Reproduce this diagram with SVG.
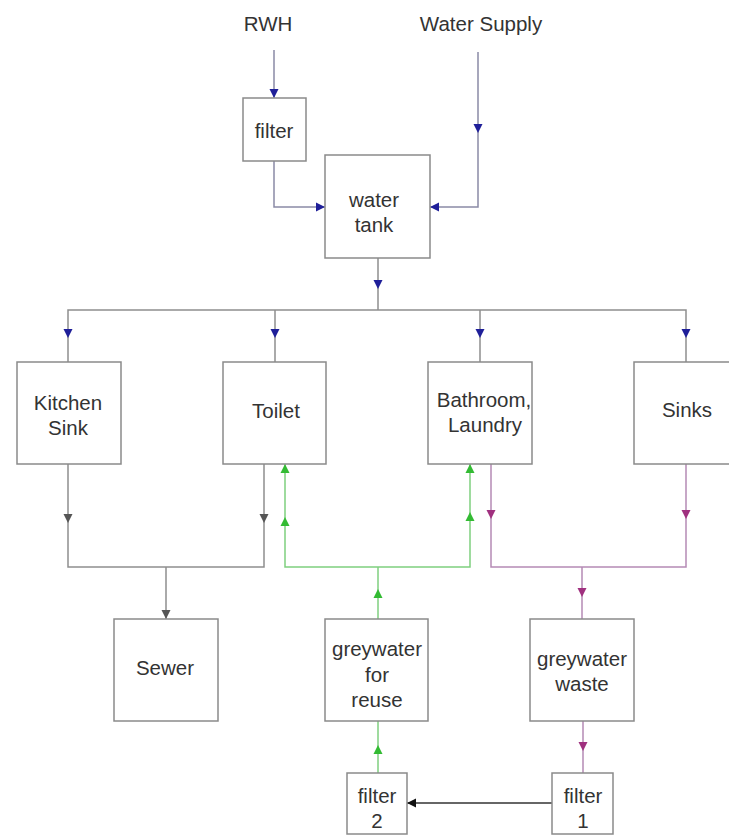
<svg xmlns="http://www.w3.org/2000/svg" xmlns:xlink="http://www.w3.org/1999/xlink" width="729" height="837" viewBox="0 0 729 837">
<style>
.box{fill:#fff;stroke:#8a8a8a;stroke-width:1.5}
.t{font-family:"Liberation Sans",Arial,sans-serif;font-size:20.5px;fill:#333;text-anchor:middle}
.ln{fill:none;stroke:#8e8e8e;stroke-width:1.5}
.lb{fill:none;stroke:#8a8aa6;stroke-width:1.5}
.lg{fill:none;stroke:#7fcf7f;stroke-width:1.5}
.lm{fill:none;stroke:#b58ab5;stroke-width:1.5}
.lk{fill:none;stroke:#333;stroke-width:1.5}
.blue{fill:#1f1f99}
.grey{fill:#555}
.green{fill:#33bb33}
.mag{fill:#a0307f}
.blk{fill:#111}
</style>
<defs>
<path id="ad" d="M-4.5,-9 L4.5,-9 L0,0 Z"/>
<path id="au" d="M-4.5,9 L4.5,9 L0,0 Z"/>
<path id="ar" d="M-9,-4.5 L-9,4.5 L0,0 Z"/>
<path id="al" d="M9,-4.5 L9,4.5 L0,0 Z"/>
</defs>
<rect width="729" height="837" fill="#fff"/>

<g id="connectors">
  <!-- inputs -->
  <path class="lb" d="M274,50 V98"/>
  <path class="lb" d="M274,161 V207 H325"/>
  <path class="lb" d="M478,52 V207 H430"/>
  <use href="#ad" x="274" y="98" class="blue"/>
  <use href="#ar" x="325" y="207" class="blue"/>
  <use href="#ad" x="478" y="133" class="blue"/>
  <use href="#al" x="430" y="207" class="blue"/>
  <!-- tank distribution -->
  <path class="ln" d="M378,258 V310"/>
  <path class="ln" d="M68,362 V310 H686 V362"/>
  <path class="ln" d="M275,310 V362"/>
  <path class="ln" d="M480,310 V362"/>
  <use href="#ad" x="378" y="289" class="blue"/>
  <use href="#ad" x="68" y="338" class="blue"/>
  <use href="#ad" x="275" y="338" class="blue"/>
  <use href="#ad" x="480" y="338" class="blue"/>
  <use href="#ad" x="686" y="338" class="blue"/>
  <!-- to sewer -->
  <path class="ln" d="M68,464 V567 H264 V464"/>
  <path class="ln" d="M166,567 V619"/>
  <use href="#ad" x="68" y="523" class="grey"/>
  <use href="#ad" x="264" y="523" class="grey"/>
  <use href="#ad" x="166" y="619" class="grey"/>
  <!-- greywater reuse -->
  <path class="lg" d="M285,464 V567 H470 V464"/>
  <path class="lg" d="M378,619 V567"/>
  <path class="lg" d="M378,773 V721"/>
  <use href="#au" x="285" y="464" class="green"/>
  <use href="#au" x="285" y="517" class="green"/>
  <use href="#au" x="470" y="464" class="green"/>
  <use href="#au" x="470" y="512" class="green"/>
  <use href="#au" x="378" y="589" class="green"/>
  <use href="#au" x="378" y="745" class="green"/>
  <!-- greywater waste -->
  <path class="lm" d="M491,464 V567 H686 V464"/>
  <path class="lm" d="M582,567 V619"/>
  <path class="lm" d="M583,721 V773"/>
  <use href="#ad" x="491" y="519" class="mag"/>
  <use href="#ad" x="686" y="519" class="mag"/>
  <use href="#ad" x="582" y="597" class="mag"/>
  <use href="#ad" x="583" y="751" class="mag"/>
  <!-- filter 1 to filter 2 -->
  <path class="lk" d="M552,803 H407"/>
  <use href="#al" x="407" y="803" class="blk"/>
</g>

<g id="rwh"><text class="t" x="268" y="31">RWH</text></g>
<g id="water-supply"><text class="t" x="481" y="31">Water Supply</text></g>

<g id="filter"><rect class="box" x="243" y="98" width="63" height="63"/><text class="t" x="274" y="138">filter</text></g>
<g id="water-tank"><rect class="box" x="325" y="155" width="105" height="103"/><text class="t" x="374" y="207">water</text><text class="t" x="374" y="232">tank</text></g>

<g id="kitchen-sink"><rect class="box" x="17" y="362" width="104" height="102"/><text class="t" x="68" y="410">Kitchen</text><text class="t" x="68" y="435">Sink</text></g>
<g id="toilet"><rect class="box" x="223" y="362" width="103" height="102"/><text class="t" x="276" y="418">Toilet</text></g>
<g id="bathroom-laundry"><rect class="box" x="428" y="362" width="104" height="102"/><text class="t" x="484" y="407">Bathroom,</text><text class="t" x="485" y="432">Laundry</text></g>
<g id="sinks"><rect class="box" x="634" y="362" width="104" height="102"/><text class="t" x="687" y="417">Sinks</text></g>

<g id="sewer"><rect class="box" x="114" y="619" width="104" height="102"/><text class="t" x="165" y="675">Sewer</text></g>
<g id="greywater-reuse"><rect class="box" x="325" y="619" width="103" height="102"/><text class="t" x="377" y="656">greywater</text><text class="t" x="377" y="682">for</text><text class="t" x="377" y="707">reuse</text></g>
<g id="greywater-waste"><rect class="box" x="530" y="619" width="104" height="102"/><text class="t" x="582" y="666">greywater</text><text class="t" x="582" y="691">waste</text></g>

<g id="filter-2"><rect class="box" x="347" y="773" width="60" height="61"/><text class="t" x="377" y="803">filter</text><text class="t" x="377" y="828">2</text></g>
<g id="filter-1"><rect class="box" x="552" y="773" width="61" height="61"/><text class="t" x="583" y="803">filter</text><text class="t" x="583" y="828">1</text></g>
</svg>
